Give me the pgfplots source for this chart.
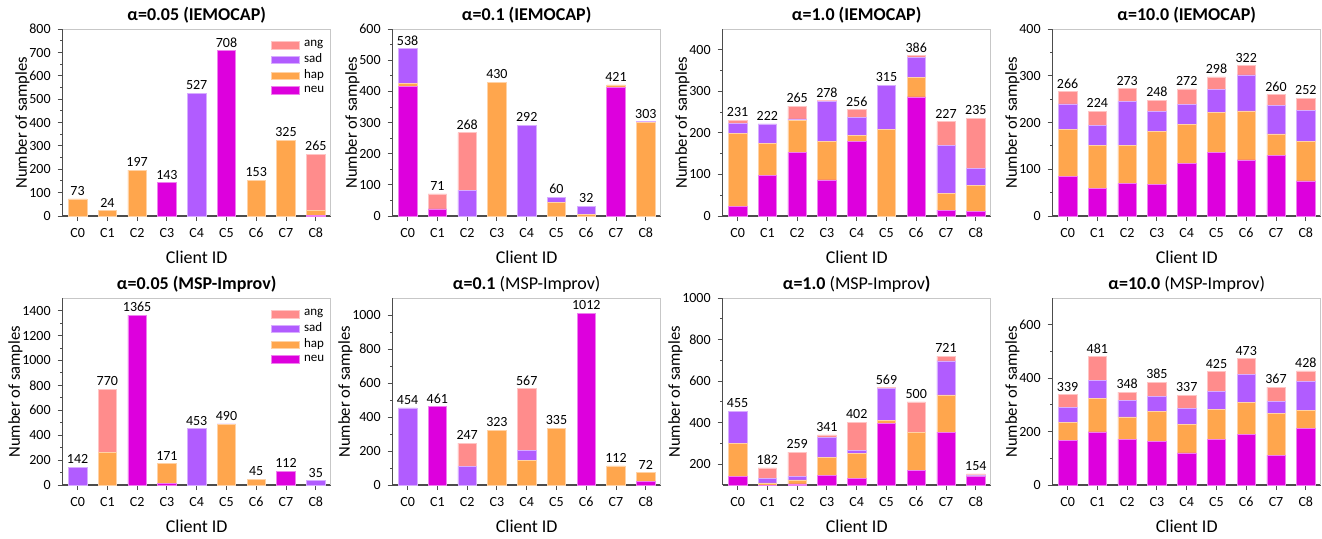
\documentclass[border=0pt]{standalone}
\usepackage{pgfplots}
\pgfplotsset{compat=1.18}
\usepackage{pgfplotstable}
\usepackage{fontspec}
\setmainfont{Carlito}

\definecolor{neu}{HTML}{DD00DD}
\definecolor{hap}{HTML}{FFA64D}
\definecolor{sad}{HTML}{B15CFF}
\definecolor{ang}{HTML}{FF8C8C}

% IEMOCAP
\pgfplotstableread{
x neu hap sad ang tot
0 0 73 0 0 73
1 0 24 0 0 24
2 0 197 0 0 197
3 143 0 0 0 143
4 0 0 527 0 527
5 708 0 0 0 708
6 0 153 0 0 153
7 0 325 0 0 325
8 3 20 0 242 265
}\iemA
\pgfplotstableread{
x neu hap sad ang tot
0 416 11 111 0 538
1 20 0 3 48 71
2 0 0 82 186 268
3 0 428 0 2 430
4 0 0 292 0 292
5 0 43 17 0 60
6 0 6 24 2 32
7 413 8 0 0 421
8 0 300 3 0 303
}\iemB
\pgfplotstableread{
x neu hap sad ang tot
0 24 175 24 8 231
1 97 77 48 0 222
2 153 77 4 31 265
3 87 93 96 2 278
4 180 15 42 19 256
5 0 208 107 0 315
6 287 46 50 3 386
7 14 40 116 57 227
8 11 62 41 121 235
}\iemC
\pgfplotstableread{
x neu hap sad ang tot
0 84 102 54 26 266
1 59 93 42 30 224
2 69 82 94 28 273
3 67 114 43 24 248
4 113 84 42 33 272
5 137 85 49 27 298
6 120 105 77 20 322
7 129 47 61 23 260
8 75 85 67 25 252
}\iemD
% MSP-Improv
\pgfplotstableread{
x neu hap sad ang tot
0 0 0 142 0 142
1 0 265 0 505 770
2 1365 0 0 0 1365
3 10 161 0 0 171
4 0 0 453 0 453
5 0 484 6 0 490
6 0 45 0 0 45
7 112 0 0 0 112
8 0 0 35 0 35
}\mspA
\pgfplotstableread{
x neu hap sad ang tot
0 0 0 454 0 454
1 461 0 0 0 461
2 0 0 108 139 247
3 0 323 0 0 323
4 0 144 59 364 567
5 0 335 0 0 335
6 1012 0 0 0 1012
7 0 112 0 0 112
8 22 50 0 0 72
}\mspB
\pgfplotstableread{
x neu hap sad ang tot
0 141 160 154 0 455
1 100 10 20 52 182
2 105 20 16 118 259
3 147 85 96 13 341
4 130 123 12 137 402
5 397 14 154 4 569
6 170 185 0 145 500
7 355 179 164 23 721
8 142 0 5 7 154
}\mspC
\pgfplotstableread{
x neu hap sad ang tot
0 167 67 56 49 339
1 199 126 67 89 481
2 172 83 61 32 348
3 162 113 57 53 385
4 120 108 58 51 337
5 172 112 67 74 425
6 189 120 106 58 473
7 111 158 44 54 367
8 212 69 108 39 428
}\mspD

\pgfplotsset{
  /pgf/number format/assume math mode=true,
  /pgf/number format/1000 sep={},
  geom/.style={
    scale only axis, width=134pt, height=93.4pt,
    xmin=-0.5, xmax=8.5, anchor=south west,
  },
  panel/.style={
    geom, ybar stacked, bar width=0.62, ymin=0,
    xtick={0,...,8},
    xticklabels={C0,C1,C2,C3,C4,C5,C6,C7,C8},
    axis x line*=bottom, axis y line*=left,
    axis line style={black!70, line width=0.6pt, -},
    tick align=outside,
    major tick length=2.5pt, minor tick length=1.3pt,
    minor y tick num=1,
    tick style={black!70, line width=0.5pt},
    ticklabel style={font=\fontsize{7}{8}\selectfont},
    ylabel={Number of samples}, xlabel={Client ID},
    ylabel style={font=\fontsize{8.3}{9}\selectfont, yshift=-7pt},
    xlabel style={font=\fontsize{9}{10}\selectfont, yshift=0pt},
    title style={font=\bfseries\fontsize{9}{10}\selectfont, yshift=-6.5pt},
    legend style={draw=none, fill=none, at={(0.755,0.985)}, anchor=north west,
      font=\fontsize{6.5}{7}\selectfont, row sep=-2pt},
    legend cell align=left,
    reverse legend,
    legend image code/.code={\fill[##1] (0pt,-1.9pt) rectangle (14pt,1.9pt);},
    extra description/.code={\draw[black!22, line width=0.5pt] (0,1) -- (1,1) -- (1,0);},
  },
  totals/.style={
    geom, hide axis, clip=false, ymin=0,
    every node near coord/.append style={font=\fontsize{7}{8}\selectfont, black, inner sep=1.5pt},
  },
}

\newcommand{\stackbars}[1]{%
  \addplot[fill=neu, draw=neu!50!white, line width=0.3pt] table[x=x,y=neu]{#1};
  \addplot[fill=hap, draw=hap!50!white, line width=0.3pt] table[x=x,y=hap]{#1};
  \addplot[fill=sad, draw=sad!50!white, line width=0.3pt] table[x=x,y=sad]{#1};
  \addplot[fill=ang, draw=ang!50!white, line width=0.3pt] table[x=x,y=ang]{#1};
}
\newcommand{\totlabels}[1]{%
  \addplot[draw=none, mark=none, point meta=y,
    nodes near coords={\pgfmathprintnumber[fixed,precision=0]{\pgfplotspointmeta}}]
    table[x=x,y=tot]{#1};
}

\begin{document}
\begin{tikzpicture}
\path[use as bounding box] (0,0) rectangle (661pt,-269pt);

% top row: IEMOCAP
\begin{axis}[panel, at={(31.35pt,-108pt)},
  ymax=800, ytick={0,100,...,800}, title={α=0.05 (IEMOCAP)}]
  \stackbars{\iemA}
  \legend{neu,hap,sad,ang}
\end{axis}
\begin{axis}[totals, at={(31.35pt,-108pt)}, ymax=800]
  \totlabels{\iemA}
\end{axis}

\begin{axis}[panel, at={(196.35pt,-108pt)},
  ymax=600, ytick={0,100,...,600}, title={α=0.1 (IEMOCAP)}]
  \stackbars{\iemB}
\end{axis}
\begin{axis}[totals, at={(196.35pt,-108pt)}, ymax=600]
  \totlabels{\iemB}
\end{axis}

\begin{axis}[panel, at={(361.35pt,-108pt)},
  ymax=450, ytick={0,100,...,400}, title={α=1.0 (IEMOCAP)}]
  \stackbars{\iemC}
\end{axis}
\begin{axis}[totals, at={(361.35pt,-108pt)}, ymax=450]
  \totlabels{\iemC}
\end{axis}

\begin{axis}[panel, at={(526.35pt,-108pt)},
  ymax=400, ytick={0,100,...,400}, title={α=10.0 (IEMOCAP)}]
  \stackbars{\iemD}
\end{axis}
\begin{axis}[totals, at={(526.35pt,-108pt)}, ymax=400]
  \totlabels{\iemD}
\end{axis}

% bottom row: MSP-Improv
\begin{axis}[panel, at={(31.35pt,-242.5pt)},
  ymax=1500, ytick={0,200,...,1400}, title={α=0.05 (MSP-Improv)}]
  \stackbars{\mspA}
  \legend{neu,hap,sad,ang}
\end{axis}
\begin{axis}[totals, at={(31.35pt,-242.5pt)}, ymax=1500]
  \totlabels{\mspA}
\end{axis}

\begin{axis}[panel, at={(196.35pt,-242.5pt)},
  ymax=1100, ytick={0,200,...,1000}, title={α=0.1 \mdseries(MSP-Improv)}]
  \stackbars{\mspB}
\end{axis}
\begin{axis}[totals, at={(196.35pt,-242.5pt)}, ymax=1100]
  \totlabels{\mspB}
\end{axis}

\begin{axis}[panel, at={(361.35pt,-242.5pt)},
  ymin=100, ymax=1000, ytick={200,400,...,1000}, title={α=1.0 \mdseries(MSP-Improv\bfseries)}]
  \stackbars{\mspC}
\end{axis}
\begin{axis}[totals, at={(361.35pt,-242.5pt)}, ymin=100, ymax=1000]
  \totlabels{\mspC}
\end{axis}

\begin{axis}[panel, at={(526.35pt,-242.5pt)},
  ymax=700, ytick={0,200,...,600}, title={α=10.0 \mdseries(MSP-Improv)}]
  \stackbars{\mspD}
\end{axis}
\begin{axis}[totals, at={(526.35pt,-242.5pt)}, ymax=700]
  \totlabels{\mspD}
\end{axis}
\end{tikzpicture}
\end{document}
